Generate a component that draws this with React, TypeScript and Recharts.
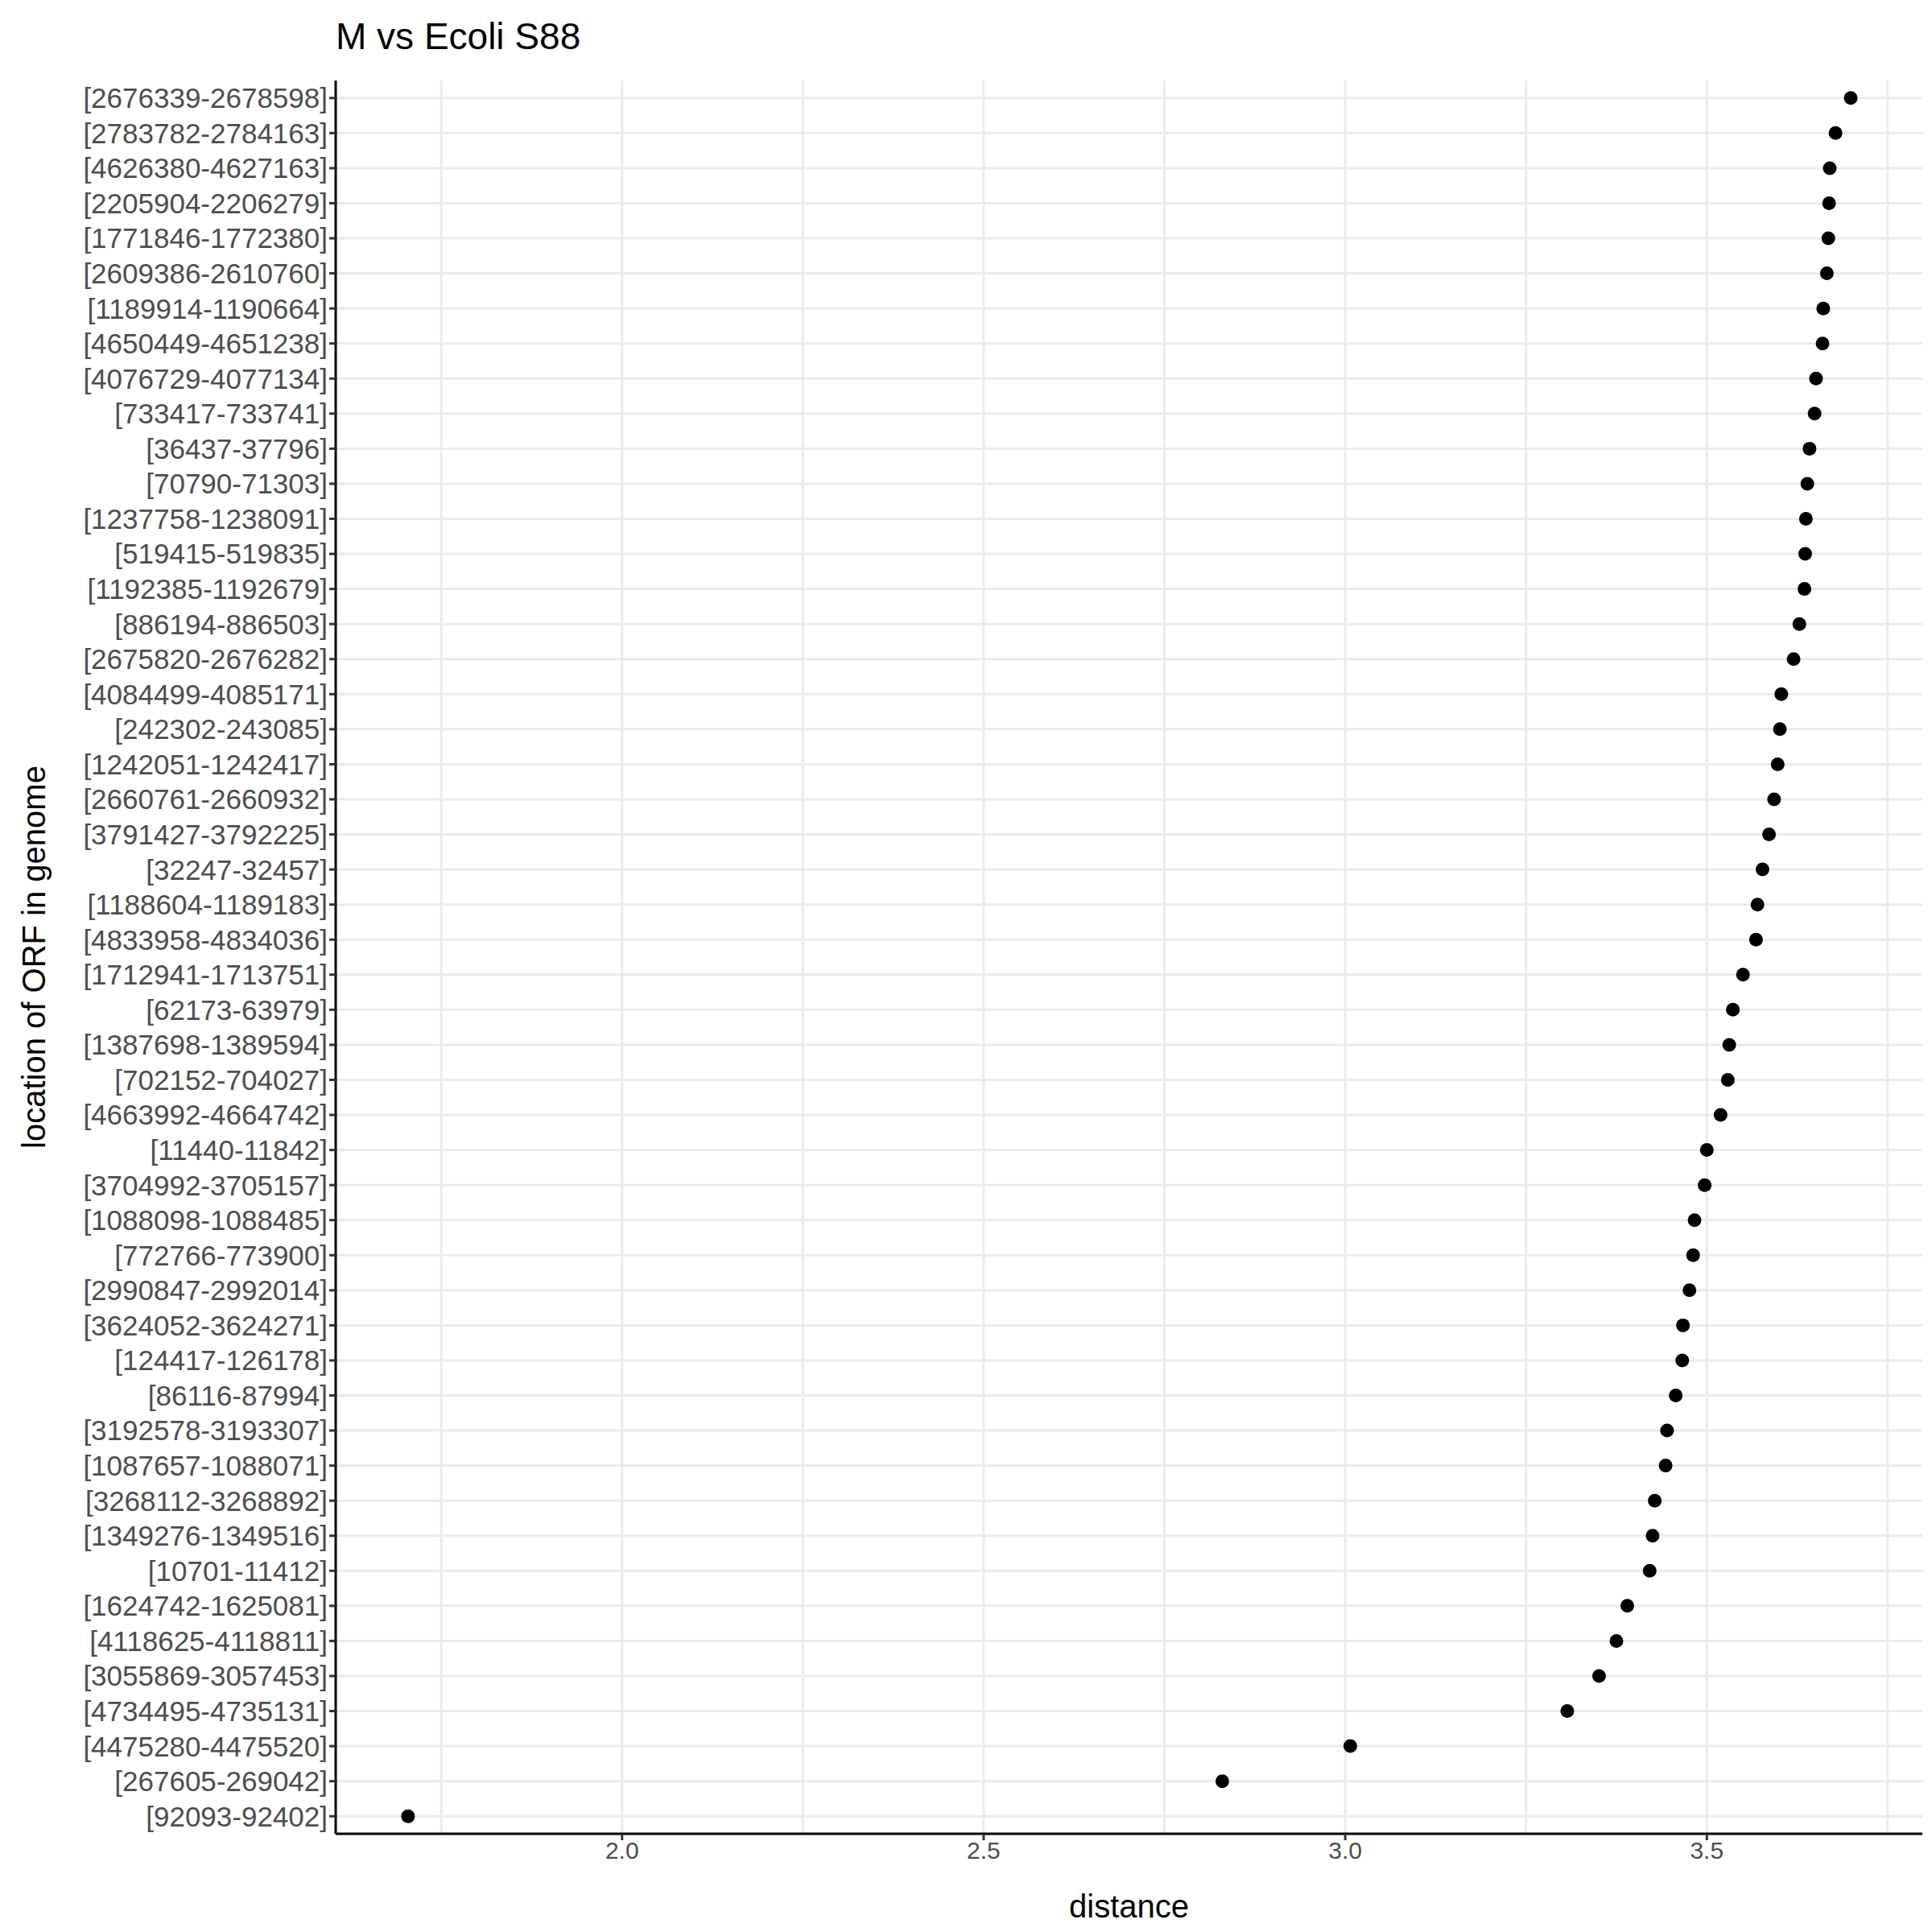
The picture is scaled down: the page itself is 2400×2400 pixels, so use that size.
import { ScatterChart, Scatter, XAxis, YAxis, CartesianGrid, ReferenceLine } from "recharts"

const labels = [
  "[2676339-2678598]", "[2783782-2784163]", "[4626380-4627163]", "[2205904-2206279]", "[1771846-1772380]",
  "[2609386-2610760]", "[1189914-1190664]", "[4650449-4651238]", "[4076729-4077134]", "[733417-733741]",
  "[36437-37796]", "[70790-71303]", "[1237758-1238091]", "[519415-519835]", "[1192385-1192679]",
  "[886194-886503]", "[2675820-2676282]", "[4084499-4085171]", "[242302-243085]", "[1242051-1242417]",
  "[2660761-2660932]", "[3791427-3792225]", "[32247-32457]", "[1188604-1189183]", "[4833958-4834036]",
  "[1712941-1713751]", "[62173-63979]", "[1387698-1389594]", "[702152-704027]", "[4663992-4664742]",
  "[11440-11842]", "[3704992-3705157]", "[1088098-1088485]", "[772766-773900]", "[2990847-2992014]",
  "[3624052-3624271]", "[124417-126178]", "[86116-87994]", "[3192578-3193307]", "[1087657-1088071]",
  "[3268112-3268892]", "[1349276-1349516]", "[10701-11412]", "[1624742-1625081]", "[4118625-4118811]",
  "[3055869-3057453]", "[4734495-4735131]", "[4475280-4475520]", "[267605-269042]", "[92093-92402]",
]

const distances = [
  3.699, 3.678, 3.670, 3.669, 3.668, 3.666, 3.661, 3.660, 3.651, 3.649,
  3.642, 3.639, 3.637, 3.636, 3.635, 3.628, 3.620, 3.603, 3.601, 3.598,
  3.593, 3.586, 3.577, 3.570, 3.568, 3.550, 3.536, 3.531, 3.529, 3.519,
  3.500, 3.497, 3.483, 3.481, 3.476, 3.467, 3.466, 3.457, 3.445, 3.443,
  3.428, 3.425, 3.421, 3.390, 3.375, 3.351, 3.307, 3.007, 2.830, 1.704,
]

const xTicks = [2.0, 2.5, 3.0, 3.5]
const xMinor = [1.75, 2.25, 2.75, 3.25, 3.75]

const n = labels.length
const data = labels.map((label, i) => ({ label, pos: n - i, distance: distances[i] }))
const yTicks = data.map((d) => d.pos)

const font = "'Liberation Sans', Arial, sans-serif"

export default function App() {
  return (
    <div style={{ position: "absolute", left: 0, top: 0, width: 2400, height: 2400, background: "#fff", fontFamily: font }}>
      <div style={{ position: "absolute", left: 417, top: 18, fontSize: 46, color: "#000" }}>M vs Ecoli S88</div>
      <ScatterChart width={2400} height={2400} margin={{ top: 100, right: 12, bottom: 0, left: 0 }}>
        <CartesianGrid stroke="#ebebeb" strokeWidth={3} verticalValues={xTicks} horizontalValues={yTicks} />
        {xMinor.map((v) => (
          <ReferenceLine key={v} x={v} stroke="#ebebeb" strokeWidth={3} />
        ))}
        <XAxis
          type="number"
          dataKey="distance"
          domain={[1.604, 3.798]}
          ticks={xTicks}
          tickFormatter={(v: number) => v.toFixed(1)}
          allowDataOverflow
          height={122}
          stroke="#000"
          strokeWidth={3}
          tickLine={{ stroke: "#333", strokeWidth: 3 }}
          tickSize={8}
          tick={{ fontSize: 30, fill: "#4d4d4d", fontFamily: font }}
          label={{ value: "distance", position: "insideBottom", offset: 18, fontSize: 40, fill: "#000", fontFamily: font }}
        />
        <YAxis
          type="number"
          dataKey="pos"
          domain={[0.5, n + 0.5]}
          ticks={yTicks}
          interval={0}
          tickFormatter={(v: number) => labels[n - v]}
          width={417}
          stroke="#000"
          strokeWidth={3}
          tickLine={{ stroke: "#333", strokeWidth: 3 }}
          tickSize={8}
          tick={{ fontSize: 35, fill: "#4d4d4d", fontFamily: font }}
          label={{ value: "location of ORF in genome", angle: -90, position: "insideLeft", offset: 42, fontSize: 40, fill: "#000", fontFamily: font, style: { textAnchor: "middle" } }}
        />
        <Scatter data={data} fill="#000" isAnimationActive={false} shape={(p: any) => <circle cx={p.cx} cy={p.cy} r={8.5} fill="#000" />} />
      </ScatterChart>
    </div>
  )
}
